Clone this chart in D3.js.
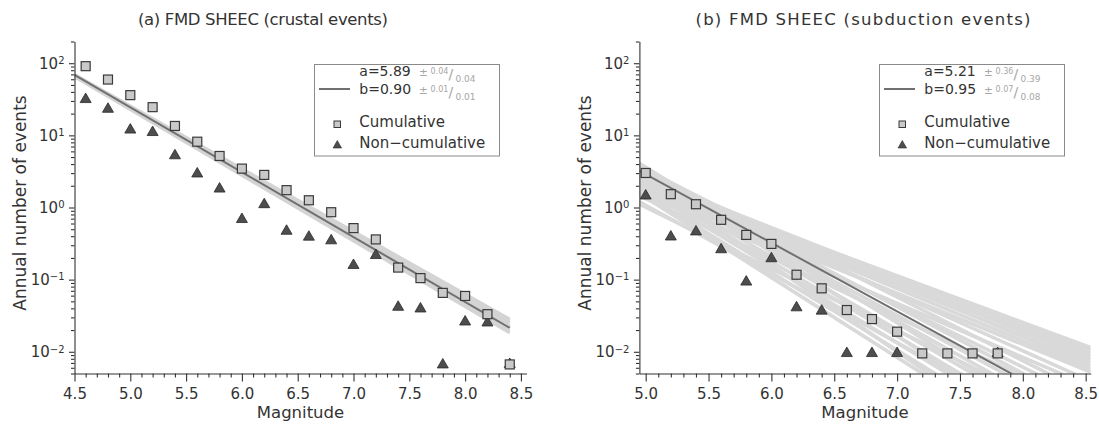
<!DOCTYPE html>
<html>
<head>
<meta charset="utf-8">
<script src="https://cdn.jsdelivr.net/npm/d3@7"></script>
<style>
  body { margin: 0; background: #fff; }
  svg { display: block; font-family: "DejaVu Sans", sans-serif; }
</style>
</head>
<body>
<svg id="chart" width="1099" height="428"></svg>
<script>
// ---- Crustal events: magnitude bins and annual rates ----
const crustalMag = [4.6, 4.8, 5.0, 5.2, 5.4, 5.6, 5.8, 6.0, 6.2, 6.4, 6.6, 6.8, 7.0, 7.2, 7.4, 7.6, 7.8, 8.0, 8.2, 8.4];
const crustalCum = [91, 59.4, 36.1, 24.6, 13.5, 8.17, 5.18, 3.46, 2.83, 1.74, 1.26, 0.86, 0.518, 0.361, 0.147, 0.105, 0.0655, 0.0594, 0.0332, 0.00668];
const crustalNonCum = [31.5, 23.1, 11.9, 11.0, 5.24, 2.93, 1.81, 0.685, 1.10, 0.471, 0.390, 0.347, 0.158, 0.217, 0.0416, 0.0394, 0.0066, 0.0260, 0.0252, 0.0067];

// ---- Subduction events ----
const subductionMag = [5.0, 5.2, 5.4, 5.6, 5.8, 6.0, 6.2, 6.4, 6.6, 6.8, 7.0, 7.2, 7.4, 7.6, 7.8];
const subductionCum = [3.01, 1.53, 1.11, 0.675, 0.417, 0.313, 0.117, 0.0758, 0.0379, 0.0284, 0.0190, 0.0095, 0.0095, 0.0095, 0.0095];
const subductionNonCumMag = [5.0, 5.2, 5.4, 5.6, 5.8, 6.0, 6.2, 6.4, 6.6, 6.8, 7.0, 7.8];
const subductionNonCum = [1.45, 0.392, 0.461, 0.261, 0.093, 0.196, 0.0409, 0.0368, 0.0095, 0.0095, 0.0095, 0.0095];

// ---- Gutenberg-Richter fits: log10 N = a - b M ----
const fitA = [5.89, 5.21];
const fitB = [0.90, 0.95];
const fitALabel = ["a=5.89", "a=5.21"];
const fitBLabel = ["b=0.90", "b=0.95"];
const aErrUp = ["0.04", "0.36"], aErrDown = ["0.04", "0.39"];
const bErrUp = ["0.01", "0.07"], bErrDown = ["0.01", "0.08"];

// bootstrap fit realisations (a, b)
const crustalBootA = [5.746, 5.78, 5.81, 5.84, 5.86, 5.87, 5.89, 5.905];
const crustalBootB = [0.868, 0.875, 0.882, 0.890, 0.895, 0.897, 0.905, 0.910];
const subductionBootA = [3.576, 3.570, 3.830, 3.688, 3.886, 3.802, 4.188, 3.944, 3.774, 3.908,
                         4.278, 4.932, 4.642, 5.100, 5.126, 5.226, 5.954, 4.226, 4.268, 4.792,
                         5.398, 5.448, 5.522, 5.562, 5.678, 6.334, 6.400];
const subductionBootB = [0.646, 0.650, 0.685, 0.673, 0.701, 0.697, 0.748, 0.724, 0.709, 0.748,
                         0.783, 0.882, 0.857, 0.925, 0.946, 0.971, 1.079, 0.821, 0.853, 0.952,
                         1.013, 1.033, 1.057, 1.077, 1.108, 1.159, 1.200];

// ---- Axis ticks ----
const crustalXTicks = [4.5, 5.0, 5.5, 6.0, 6.5, 7.0, 7.5, 8.0, 8.5];
const crustalXLabels = ["4.5", "5.0", "5.5", "6.0", "6.5", "7.0", "7.5", "8.0", "8.5"];
const subductionXTicks = [5.0, 5.5, 6.0, 6.5, 7.0, 7.5, 8.0, 8.5];
const subductionXLabels = ["5.0", "5.5", "6.0", "6.5", "7.0", "7.5", "8.0", "8.5"];
const yMajorTicks = [0.01, 0.1, 1, 10, 100];
const yExponents = ["\u22122", "\u22121", "0", "1", "2"];
const yDomain = [0.005, 200];

const titles = ["(a) FMD SHEEC (crustal events)", "(b) FMD SHEEC (subduction events)"];

const svg = d3.select("#chart");
const defs = svg.append("defs");
const TEXT = "#333";
const FIT_COLOR = "#707070";
const SQ_FILL = "#c9c9c9", SQ_STROKE = "#3a3a3a";
const TRI_FILL = "#4d4d4d", TRI_STROKE = "#2a2a2a";
const ERR_COLOR = "#a6a6a6";

function triPath(w, h) {
  // centroid-centred triangle
  return `M0,${-2 * h / 3}L${w / 2},${h / 3}L${-w / 2},${h / 3}Z`;
}

function drawPanel(cfg) {
  const x = d3.scaleLinear().domain(cfg.xDomain).range(cfg.xRange);
  const y = d3.scaleLog().domain(yDomain).range([373.5, 41.5]);
  const g = svg.append("g");

  const clipId = "clip-" + cfg.key;
  defs.append("clipPath").attr("id", clipId).append("rect")
    .attr("x", cfg.xRange[0]).attr("y", y.range()[1])
    .attr("width", cfg.xRange[1] - cfg.xRange[0])
    .attr("height", y.range()[0] - y.range()[1]);
  const plot = g.append("g").attr("clip-path", `url(#${clipId})`);

  const line = d3.line().x(d => x(d[0])).y(d => y(d[1]));
  // bootstrap band
  cfg.bootA.forEach((a, i) => {
    const b = cfg.bootB[i];
    plot.append("path")
      .attr("d", line(cfg.fitSpan.map(m => [m, Math.pow(10, a - b * m)])))
      .attr("fill", "none").attr("stroke", cfg.bandColor)
      .attr("stroke-width", cfg.bandWidth);
  });
  // best fit
  plot.append("path")
    .attr("d", line(cfg.fitSpan.map(m => [m, Math.pow(10, cfg.a - cfg.b * m)])))
    .attr("fill", "none").attr("stroke", FIT_COLOR).attr("stroke-width", 2);

  // non-cumulative (triangles) beneath cumulative (squares)
  plot.append("g").selectAll("path").data(cfg.ncMag.map((m, i) => [m, cfg.nc[i]]))
    .join("path")
    .attr("transform", d => `translate(${x(d[0])},${y(d[1])})`)
    .attr("d", triPath(11, 9.5))
    .attr("fill", TRI_FILL).attr("stroke", TRI_STROKE).attr("stroke-width", 0.8);
  plot.append("g").selectAll("rect").data(cfg.cumMag.map((m, i) => [m, cfg.cum[i]]))
    .join("rect")
    .attr("x", d => x(d[0]) - 4.5).attr("y", d => y(d[1]) - 4.5)
    .attr("width", 9).attr("height", 9)
    .attr("fill", SQ_FILL).attr("stroke", SQ_STROKE).attr("stroke-width", 1.2);

  // x axis
  const xMinor = d3.range(Math.ceil(cfg.xDomain[0] * 10), Math.floor(cfg.xDomain[1] * 10) + 1)
    .map(v => v / 10).filter(v => !cfg.xTicks.some(t => Math.abs(t - v) < 1e-6));
  const xMinorG = g.append("g").attr("transform", `translate(0,${y.range()[0]})`)
    .call(d3.axisBottom(x).tickValues(xMinor).tickSize(4).tickFormat("").tickSizeOuter(0));
  xMinorG.select(".domain").remove();
  const xMajorG = g.append("g").attr("transform", `translate(0,${y.range()[0]})`)
    .call(d3.axisBottom(x).tickValues(cfg.xTicks).tickSize(8).tickPadding(7)
      .tickSizeOuter(0).tickFormat((d, i) => cfg.xLabels[i]));

  // y axis
  const yMinor = y.ticks().filter(v => !yMajorTicks.some(t => Math.abs(Math.log10(v) - Math.log10(t)) < 1e-6));
  const yMinorG = g.append("g").attr("transform", `translate(${cfg.xRange[0]},0)`)
    .call(d3.axisLeft(y).tickValues(yMinor).tickSize(3.5).tickFormat("").tickSizeOuter(0));
  yMinorG.select(".domain").remove();
  const yMajorG = g.append("g").attr("transform", `translate(${cfg.xRange[0]},0)`)
    .call(d3.axisLeft(y).tickValues(yMajorTicks).tickSize(5.5).tickPadding(4.5)
      .tickSizeOuter(0).tickFormat(""));
  yMajorG.selectAll(".tick text").each(function (d, i) {
    const t = d3.select(this);
    t.append("tspan").text("10");
    t.append("tspan").attr("font-size", 10).attr("dy", "-0.45em").text(yExponents[i]);
  });

  [xMinorG, xMajorG, yMinorG, yMajorG].forEach(ax => {
    ax.attr("font-family", null).attr("font-size", 15).attr("color", TEXT);
    ax.selectAll("line, path").attr("stroke-width", 1.1);
    ax.selectAll("text").attr("fill", TEXT);
  });

  // titles and axis labels
  g.append("text").attr("x", cfg.titleX).attr("y", 25).attr("text-anchor", "middle")
    .attr("font-size", 16.5).attr("fill", TEXT)
    .attr("textLength", cfg.titleLength).attr("lengthAdjust", "spacing")
    .text(cfg.title);
  g.append("text").attr("x", (cfg.xRange[0] + cfg.xRange[1]) / 2).attr("y", 418)
    .attr("text-anchor", "middle").attr("font-size", 16.5).attr("fill", TEXT).text("Magnitude");
  g.append("text").attr("transform", `translate(${cfg.yLabelX},${203}) rotate(-90)`)
    .attr("text-anchor", "middle").attr("font-size", 17).attr("fill", TEXT)
    .text("Annual number of events");

  // legend
  const L = g.append("g").attr("transform", `translate(${cfg.legendX},64)`);
  L.append("rect").attr("x", 0.5).attr("y", 0.5).attr("width", 185).attr("height", 91.5)
    .attr("fill", "#fff").attr("stroke", "#8a8a8a").attr("stroke-width", 1);
  L.append("line").attr("x1", 5).attr("x2", 36).attr("y1", 25).attr("y2", 25)
    .attr("stroke", FIT_COLOR).attr("stroke-width", 2);
  const paramRow = (label, up, down, base) => {
    L.append("text").attr("x", 45.3).attr("y", base).attr("font-size", 14).attr("fill", TEXT).text(label);
    L.append("text").attr("x", 105).attr("y", base).attr("font-size", 10.5).attr("fill", ERR_COLOR).text("\u00b1");
    L.append("text").attr("x", 116.5).attr("y", base - 2.5).attr("font-size", 8).attr("fill", ERR_COLOR).text(up);
    L.append("text").attr("x", 134.5).attr("y", base + 3).attr("font-size", 14).attr("fill", ERR_COLOR).text("/");
    L.append("text").attr("x", 141.5).attr("y", base + 5.5).attr("font-size", 9).attr("fill", ERR_COLOR).text(down);
  };
  paramRow(cfg.aLabel, cfg.aUp, cfg.aDown, 12);
  paramRow(cfg.bLabel, cfg.bUp, cfg.bDown, 30.3);
  L.append("rect").attr("x", 20).attr("y", 57).attr("width", 6.5).attr("height", 6.5)
    .attr("fill", SQ_FILL).attr("stroke", SQ_STROKE).attr("stroke-width", 1);
  L.append("text").attr("x", 45.3).attr("y", 63.3).attr("font-size", 15).attr("fill", TEXT).text("Cumulative");
  L.append("path").attr("transform", "translate(23.3,81.5)").attr("d", triPath(8.5, 7.5))
    .attr("fill", TRI_FILL).attr("stroke", TRI_STROKE).attr("stroke-width", 0.6);
  L.append("text").attr("x", 45.3).attr("y", 84.3).attr("font-size", 15).attr("fill", TEXT).text("Non\u2212cumulative");
}

drawPanel({
  key: "crustal", title: titles[0], titleX: 263, titleLength: 250,
  xDomain: [4.5, 8.55], xRange: [74.5, 526.5],
  xTicks: crustalXTicks, xLabels: crustalXLabels,
  cumMag: crustalMag, cum: crustalCum, ncMag: crustalMag, nc: crustalNonCum,
  a: fitA[0], b: fitB[0], fitSpan: [4.5, 8.4],
  bootA: crustalBootA, bootB: crustalBootB, bandColor: "#d4d4d4", bandWidth: 3,
  aLabel: fitALabel[0], bLabel: fitBLabel[0],
  aUp: aErrUp[0], aDown: aErrDown[0], bUp: bErrUp[0], bDown: bErrDown[0],
  legendX: 314, yLabelX: 26
});

drawPanel({
  key: "subduction", title: titles[1], titleX: 863, titleLength: 335,
  xDomain: [4.95, 8.54], xRange: [639.4, 1090.7],
  xTicks: subductionXTicks, xLabels: subductionXLabels,
  cumMag: subductionMag, cum: subductionCum, ncMag: subductionNonCumMag, nc: subductionNonCum,
  a: fitA[1], b: fitB[1], fitSpan: [4.95, 8.54],
  bootA: subductionBootA, bootB: subductionBootB, bandColor: "#d9d9d9", bandWidth: 3.6,
  aLabel: fitALabel[1], bLabel: fitBLabel[1],
  aUp: aErrUp[1], aDown: aErrDown[1], bUp: bErrUp[1], bDown: bErrDown[1],
  legendX: 879, yLabelX: 591
});
</script>
</body>
</html>
